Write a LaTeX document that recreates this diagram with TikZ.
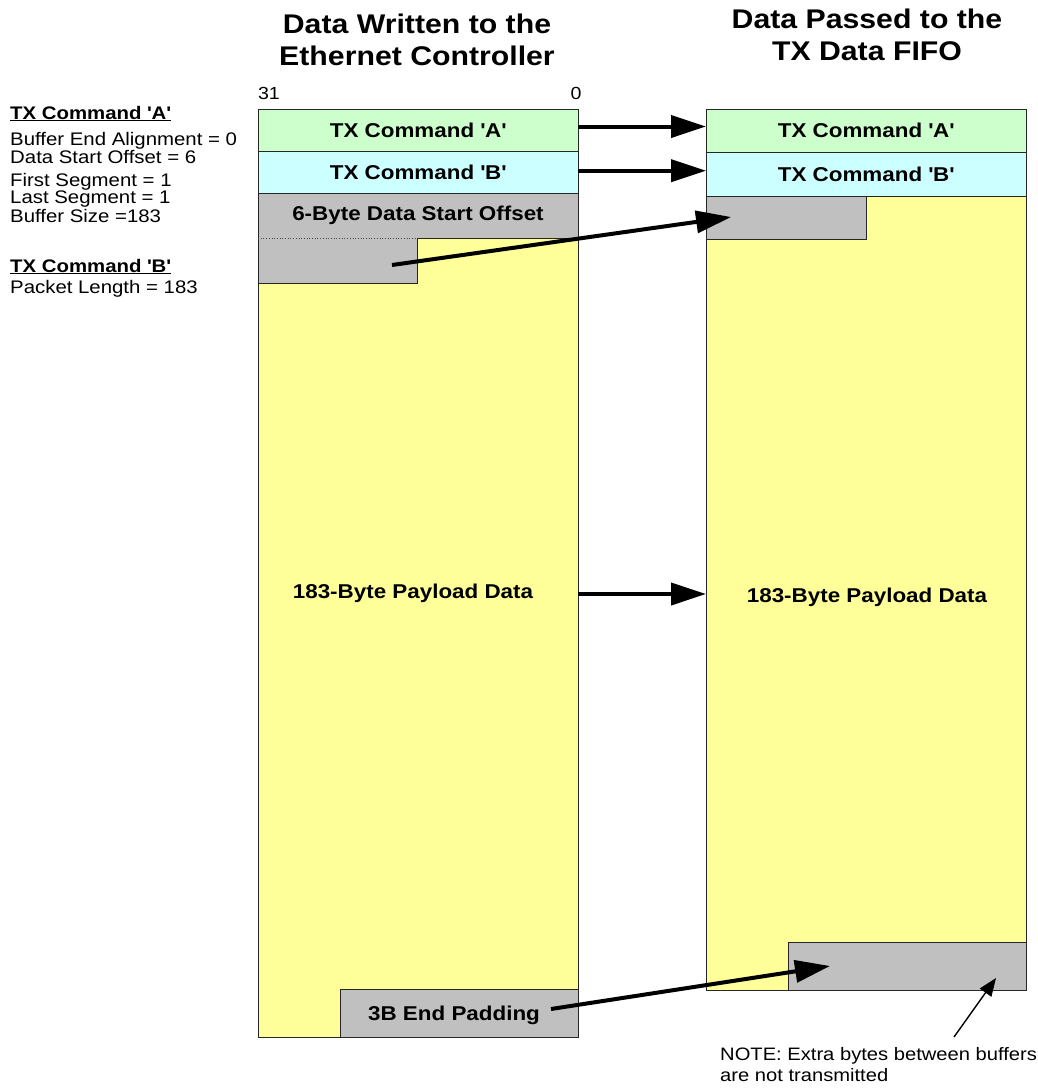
\documentclass[tikz,border=0pt]{standalone}
\usepackage{fontspec}
\setmainfont[FakeStretch=1.12]{Liberation Sans}
\usetikzlibrary{arrows.meta}
\definecolor{cgreen}{HTML}{CCFFCC}
\definecolor{ccyan}{HTML}{CCFFFF}
\definecolor{cyell}{HTML}{FFFF99}
\definecolor{cgray}{HTML}{C0C0C0}
\newcommand{\sq}{\textquotesingle}
\begin{document}
\begin{tikzpicture}[x=1pt,y=-1pt,
  box/.style={draw=black!85, line width=0.8pt, inner sep=0pt, outer sep=0pt, rectangle},
  fillonly/.style={inner sep=0pt, outer sep=0pt, rectangle},
  outline/.style={draw=black!85, line width=0.8pt},
  lbl/.style={font=\fontsize{20}{24}\selectfont\bfseries},
  title/.style={font=\fontsize{27}{33}\selectfont\bfseries, inner sep=0pt, anchor=base},
  body/.style={font=\fontsize{18.2}{21}\selectfont, inner sep=0pt, anchor=base west},
  head/.style={font=\fontsize{18.2}{21}\selectfont\bfseries, inner sep=0pt, anchor=base west},
  small/.style={font=\fontsize{17.5}{20}\selectfont, inner sep=0pt, anchor=base},
  bigarrow/.style={line width=4pt, -{Triangle[length=35pt,width=22pt]}},
  thinarrow/.style={line width=1.4pt, -{Triangle[length=18pt,width=14pt]}}
]
\useasboundingbox (0,0) rectangle (1038,1088);

% titles
\node[title] (t1a) at (417,33.3) {Data Written to the};
\node[title] (t1b) at (417,65.7) {Ethernet Controller};
\node[title] (t2a) at (867,28) {Data Passed to the};
\node[title] (t2b) at (867,60) {TX Data FIFO};

% bit labels
\node[small] (b31) at (269,99.5) {31};
\node[small] (b0) at (576,99.5) {0};

% left notes
\node[head] (ha) at (10,119) {\underline{TX Command \sq A\sq}};
\node[body] (n1) at (10,145.7) {Buffer End Alignment = 0};
\node[body] (n2) at (10,163) {Data Start Offset = 6};
\node[body] (n3) at (10,186) {First Segment = 1};
\node[body] (n4) at (10,203.5) {Last Segment = 1};
\node[body] (n5) at (10,222) {Buffer Size =183};
\node[head] (hb) at (10,272) {\underline{TX Command \sq B\sq}};
\node[body] (n6) at (10,293) {Packet Length = 183};

% left column
\node[box, fill=cyell, minimum width=320pt, minimum height=799pt] (lY) at (418,637.5) {};
\node[box, fill=cgreen, minimum width=320pt, minimum height=42pt, lbl] (lA) at (418,130) {TX Command \sq A\sq};
\node[box, fill=ccyan, minimum width=320pt, minimum height=42pt, lbl] (lB) at (418,172) {TX Command \sq B\sq};
\node[fillonly, fill=cgray, minimum width=320pt, minimum height=45pt, lbl] (lOff) at (418,215.5) {6-Byte Data Start Offset};
\node[fillonly, fill=cgray, minimum width=159pt, minimum height=45pt] (lStub) at (337.5,260.5) {};
\draw[outline] (lOff.north west) -- (lOff.north east) -- (lOff.south east) -- (lStub.north east)
  -- (lStub.south east) -- (lStub.south west) -- cycle;
\draw[black!70, line width=0.7pt, dotted] (lOff.south west) -- (lStub.north east);
\node[box, fill=cgray, minimum width=238pt, minimum height=48pt] (lEnd) at (459,1013) {};
\node[lbl, inner sep=0pt, anchor=base] (lEndT) at (454,1020) {3B End Padding};
\node[lbl, inner sep=0pt, anchor=base] (lPay) at (413,598) {183-Byte Payload Data};

% right column
\node[box, fill=cyell, minimum width=320pt, minimum height=794pt] (rY) at (866,593) {};
\node[box, fill=cgreen, minimum width=320pt, minimum height=43pt, lbl] (rA) at (866,130.5) {TX Command \sq A\sq};
\node[box, fill=ccyan, minimum width=320pt, minimum height=44pt, lbl] (rB) at (866,174) {TX Command \sq B\sq};
\node[box, fill=cgray, minimum width=160pt, minimum height=43pt] (rOff) at (786,217.5) {};
\node[box, fill=cgray, minimum width=238pt, minimum height=48pt] (rEnd) at (907,966) {};
\node[lbl, inner sep=0pt, anchor=base] (rPay) at (867,602) {183-Byte Payload Data};

% note
\node[font=\fontsize{18}{22.5}\selectfont, inner sep=0pt, anchor=base west] (note1) at (720,1060.7) {NOTE: Extra bytes between buffers};
\node[font=\fontsize{18}{22.5}\selectfont, inner sep=0pt, anchor=base west] (note2) at (720,1081) {are not transmitted};
\coordinate (notetail) at (954,1037);

% arrows
\coordinate (pa) at ([yshift=3.5pt]lA.east);
\coordinate (pb) at ([yshift=1.3pt]lB.east);
\coordinate (pp) at ([yshift=43.5pt]lY.east);
\draw[bigarrow] (pa) -- (pa -| rA.west);
\draw[bigarrow] (pb) -- (pb -| rB.west);
\draw[bigarrow] ([xshift=54.5pt,yshift=-4.5pt]lStub.center) -- ([xshift=-55pt,yshift=0.5pt]rOff.center);
\draw[bigarrow] (pp) -- (pp -| rY.west);
\draw[bigarrow] ([xshift=92pt,yshift=4pt]lEnd.center) -- ([xshift=-77pt]rEnd.center);
\draw[thinarrow] (notetail) -- ([xshift=89pt,yshift=12pt]rEnd.south);
\end{tikzpicture}
\end{document}
